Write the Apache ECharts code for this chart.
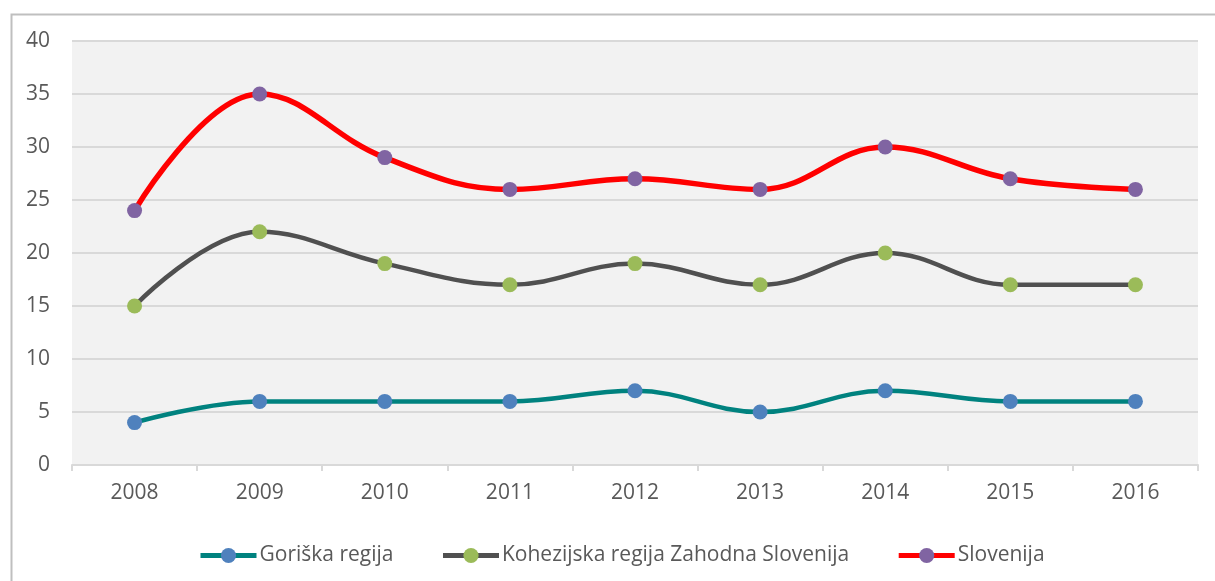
<!DOCTYPE html>
<html>
<head>
<meta charset="utf-8">
<script src="https://cdn.jsdelivr.net/npm/echarts@6/dist/echarts.min.js"></script>
<style>
html,body{margin:0;padding:0;background:#fff;}
#chart{width:1215px;height:581px;}
</style>
</head>
<body>
<div id="chart"></div>
<script>
const categories = ['2008','2009','2010','2011','2012','2013','2014','2015','2016'];
const goriska = [4, 6, 6, 6, 7, 5, 7, 6, 6];
const kohezijska = [15, 22, 19, 17, 19, 17, 20, 17, 17];
const slovenija = [24, 35, 29, 26, 27, 26, 30, 27, 26];
const seriesNames = ['Goriška regija', 'Kohezijska regija Zahodna Slovenija', 'Slovenija'];

const chart = echarts.init(document.getElementById('chart'));
const font = '"Open Sans", "DejaVu Sans", sans-serif';
function mk(name, data, lineColor, markerColor, width) {
  return {
    name: name, type: 'line', data: data, smooth: 0.4,
    symbol: 'circle', symbolSize: 15, showSymbol: true,
    lineStyle: {color: lineColor, width: width},
    itemStyle: {color: markerColor, borderWidth: 0},
    emphasis: {disabled: true}
  };
}
chart.setOption({
  animation: false,
  backgroundColor: '#ffffff',
  graphic: [{
    type: 'rect', left: 9, top: 12, z: -10,
    shape: {x: 0, y: 0, width: 1230, height: 600},
    style: {fill: 'none', stroke: '#BFBFBF', lineWidth: 2}
  }],
  grid: {left: 72, right: 17, top: 41, bottom: 116, show: true, backgroundColor: '#F2F2F2', borderWidth: 0},
  legend: {
    left: 193, top: 540, itemWidth: 56, itemHeight: 19, itemGap: 47,
    lineStyle: {width: 5},
    textStyle: {fontFamily: font, fontSize: 21, color: '#595959', padding: [0,0,0,-2]},
    data: seriesNames
  },
  xAxis: {
    type: 'category', data: categories, boundaryGap: true,
    axisLine: {lineStyle: {color: '#D9D9D9', width: 2}},
    axisTick: {show: true, length: 6, lineStyle: {color: '#D9D9D9', width: 2}},
    axisLabel: {fontFamily: font, fontSize: 21, color: '#595959', margin: 18}
  },
  yAxis: {
    type: 'value', min: 0, max: 40, interval: 5,
    axisLine: {show: false}, axisTick: {show: false},
    splitLine: {lineStyle: {color: '#D9D9D9', width: 2}},
    axisLabel: {fontFamily: font, fontSize: 21, color: '#595959', margin: 22}
  },
  series: [
    mk(seriesNames[0], goriska, '#00827F', '#4F81BD', 4.5),
    mk(seriesNames[1], kohezijska, '#505050', '#9BBB59', 4.5),
    mk(seriesNames[2], slovenija, '#FF0000', '#8064A2', 5.5)
  ]
});
</script>
</body>
</html>
